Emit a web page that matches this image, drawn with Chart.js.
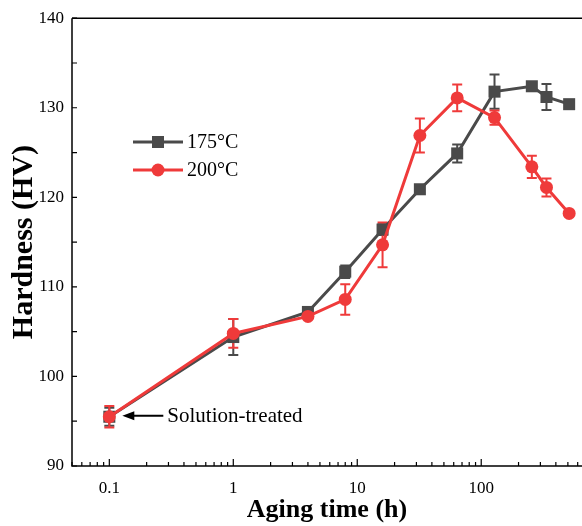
<!DOCTYPE html>
<html>
<head>
<meta charset="utf-8">
<script src="https://cdn.jsdelivr.net/npm/chart.js@4/dist/chart.umd.min.js"></script>
<style>
  html, body { margin: 0; padding: 0; background: #fff; }
  #wrap { width: 582px; height: 526px; }
</style>
</head>
<body>
<div id="wrap"><canvas id="c" width="582" height="526"></canvas></div>
<script>
// aging times (h) and hardness readings
const hours = [0.1, 1, 4, 8, 16, 32, 64, 128, 256, 336, 512];
const hv175 = [95.5, 104.4, 107.2, 111.7, 116.4, 120.9, 124.9, 131.8, 132.4, 131.2, 130.4];
const err175 = [1.0, 2.0, 0.3, 0.7, 0.6, 0.4, 1.0, 1.9, 0.3, 1.45, 0.3];
const hv200 = [95.5, 104.8, 106.7, 108.6, 114.7, 126.9, 131.1, 128.9, 123.4, 121.1, 118.2];
const err200 = [1.2, 1.6, 0.3, 1.7, 2.5, 1.9, 1.5, 0.8, 1.25, 1.0, 0.3];

const xTicks = [0.1, 1, 10, 100];
const yTicks = [90, 100, 110, 120, 130, 140];
const seriesNames = ['175\u00b0C', '200\u00b0C'];
const noteText = 'Solution-treated';

const GREY = '#4a4a4a';
const RED = '#ef3a3a';
const FONT = "'Liberation Serif', 'Times New Roman', serif";

const pts = (ys) => hours.map((h, i) => ({ x: h, y: ys[i] }));

// error bars, inward ticks, frame, legend and the annotation
const extras = {
  id: 'extras',
  beforeDatasetsDraw(chart) {
    const ctx = chart.ctx;
    const xs = chart.scales.x, ys = chart.scales.y;
    const sets = [[hv175, err175, GREY], [hv200, err200, RED]];
    ctx.save();
    ctx.lineWidth = 2;
    sets.forEach(([vals, errs, col]) => {
      ctx.strokeStyle = col;
      hours.forEach((h, i) => {
        const x = xs.getPixelForValue(h);
        const y1 = ys.getPixelForValue(vals[i] + errs[i]);
        const y2 = ys.getPixelForValue(vals[i] - errs[i]);
        ctx.beginPath();
        ctx.moveTo(x, y1); ctx.lineTo(x, y2);
        ctx.moveTo(x - 5, y1); ctx.lineTo(x + 5, y1);
        ctx.moveTo(x - 5, y2); ctx.lineTo(x + 5, y2);
        ctx.stroke();
      });
    });
    ctx.restore();
  },
  afterDraw(chart) {
    const ctx = chart.ctx;
    const a = chart.chartArea;
    const xs = chart.scales.x, ys = chart.scales.y;
    ctx.save();
    ctx.strokeStyle = '#000';
    ctx.lineWidth = 1.5;
    ctx.beginPath();
    ctx.moveTo(a.left, a.top); ctx.lineTo(chart.width, a.top);
    ctx.moveTo(a.left, a.top); ctx.lineTo(a.left, a.bottom);
    ctx.lineTo(chart.width, a.bottom);
    ctx.stroke();

    ctx.lineWidth = 1.2;
    ctx.beginPath();
    // x ticks, major and minor, pointing in
    for (let d = -2; d <= 3; d++) {
      for (let m = 1; m <= 9; m++) {
        const v = m * Math.pow(10, d);
        if (v < xs.min || v > xs.max) continue;
        const x = xs.getPixelForValue(v);
        ctx.moveTo(x, a.bottom);
        ctx.lineTo(x, a.bottom - (m === 1 ? 7 : 4));
      }
    }
    // y ticks
    for (let v = 90; v <= 140; v += 5) {
      const y = ys.getPixelForValue(v);
      ctx.moveTo(a.left, y);
      ctx.lineTo(a.left + 5, y);
    }
    ctx.stroke();

    // legend
    const leg = [[GREY, 'rect', 142], [RED, 'circle', 170]];
    leg.forEach(([col, shape, y], i) => {
      ctx.strokeStyle = col;
      ctx.fillStyle = col;
      ctx.lineWidth = 3;
      ctx.beginPath();
      ctx.moveTo(133, y); ctx.lineTo(183, y);
      ctx.stroke();
      ctx.beginPath();
      if (shape === 'rect') ctx.rect(152, y - 6, 12, 12);
      else ctx.arc(158, y, 6.5, 0, Math.PI * 2);
      ctx.fill();
      ctx.fillStyle = '#000';
      ctx.font = '20px ' + FONT;
      ctx.textBaseline = 'middle';
      ctx.textAlign = 'left';
      ctx.fillText(seriesNames[i], 187, y + 1);
    });

    // solution-treated arrow
    const tipX = xs.getPixelForValue(hours[0]) + 13;
    const tipY = ys.getPixelForValue(hv200[0]) - 1;
    ctx.strokeStyle = '#000';
    ctx.fillStyle = '#000';
    ctx.lineWidth = 1.8;
    ctx.beginPath();
    ctx.moveTo(tipX + 8, tipY); ctx.lineTo(tipX + 41, tipY);
    ctx.stroke();
    ctx.beginPath();
    ctx.moveTo(tipX, tipY);
    ctx.lineTo(tipX + 12, tipY - 4.5);
    ctx.lineTo(tipX + 12, tipY + 4.5);
    ctx.closePath();
    ctx.fill();
    ctx.font = '21px ' + FONT;
    ctx.textBaseline = 'middle';
    ctx.fillText(noteText, tipX + 45, tipY + 1);
    ctx.restore();
  }
};

new Chart(document.getElementById('c'), {
  type: 'line',
  data: {
    datasets: [
      {
        label: seriesNames[0],
        data: pts(hv175),
        borderColor: GREY,
        backgroundColor: GREY,
        borderWidth: 3,
        pointStyle: 'rect',
        pointRadius: 8.5,
        pointBorderWidth: 0,
        clip: false,
        order: 2
      },
      {
        label: seriesNames[1],
        data: pts(hv200),
        borderColor: RED,
        backgroundColor: RED,
        borderWidth: 3,
        pointStyle: 'circle',
        pointRadius: 6.5,
        pointBorderWidth: 0,
        clip: false,
        order: 1
      }
    ]
  },
  options: {
    responsive: false,
    animation: false,
    layout: { autoPadding: false, padding: { top: 18, right: 0, left: 0, bottom: 0 } },
    plugins: { legend: { display: false }, tooltip: { enabled: false } },
    scales: {
      x: {
        type: 'logarithmic',
        min: 0.05,
        max: 650,
        grid: { display: false, drawTicks: false },
        border: { display: false },
        afterBuildTicks: (s) => { s.ticks = xTicks.map(v => ({ value: v })); },
        afterFit: (s) => { s.height = 60; s.paddingLeft = 0; s.paddingRight = 0; },
        ticks: {
          color: '#000',
          padding: 12,
          font: { family: FONT, size: 17 },
          callback: (v) => String(v)
        },
        title: {
          display: true,
          text: 'Aging time (h)',
          color: '#000',
          padding: { top: 0, bottom: 0 },
          font: { family: FONT, size: 26, weight: 'bold' }
        }
      },
      y: {
        min: 90,
        max: 140,
        grid: { display: false, drawTicks: false },
        border: { display: false },
        afterBuildTicks: (s) => { s.ticks = yTicks.map(v => ({ value: v })); },
        afterFit: (s) => { s.width = 72; },
        ticks: {
          color: '#000',
          padding: 8,
          font: { family: FONT, size: 17 }
        },
        title: {
          display: true,
          text: 'Hardness (HV)',
          color: '#000',
          padding: { top: 6, bottom: 0 },
          font: { family: FONT, size: 30, weight: 'bold' }
        }
      }
    }
  },
  plugins: [extras]
});
</script>
</body>
</html>
